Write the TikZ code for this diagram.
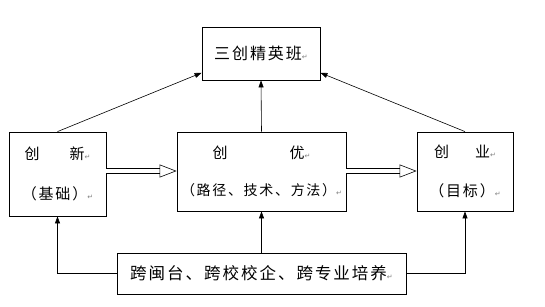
\documentclass[tikz,border=0pt]{standalone}
\usepackage{fontspec}
\setmainfont{Noto Sans CJK SC}[LetterSpace=12]
\newfontfamily\markfont{DejaVu Sans}
\usetikzlibrary{arrows.meta}

\newcommand{\parmark}{{\markfont\color{gray}\fontsize{7}{7}\selectfont ↵}}

\begin{document}
\begin{tikzpicture}[x=1pt,y=-1pt,
  box/.style={draw,line width=0.8pt,inner sep=0pt,align=center},
  link/.style={-{Triangle[length=7pt,width=5pt]},line width=0.6pt},
  hollow/.style={double distance=4pt,line width=0.6pt,
    -{Triangle[open,length=17pt,width=13pt]}}]
  \useasboundingbox (0,0) rectangle (545,307);

  \node[box,minimum width=118pt,minimum height=53pt,
    font=\fontsize{16}{16}\selectfont] (crown) at (261,53.5) {三创精英班\parmark};
  \node[box,minimum width=97pt,minimum height=84pt,
    font=\fontsize{15}{40}\selectfont] (new) at (57.5,174)
    {创\hspace{30pt}新\parmark\\（基础）\parmark};
  \node[box,minimum width=169pt,minimum height=79pt,
    font=\fontsize{15}{37}\selectfont] (opt) at (261.5,171.5)
    {创\hspace{62pt}优\parmark\\{\fontsize{14}{14}\selectfont（路径、技术、方法）\parmark}};
  \node[box,minimum width=96pt,minimum height=79pt,
    font=\fontsize{15}{39}\selectfont] (job) at (465,171.5)
    {创\hspace{26pt}业\parmark\\（目标）\parmark};
  \node[box,minimum width=289pt,minimum height=41pt,
    font=\fontsize{16.5}{16.5}\selectfont] (base) at (261.5,273.5)
    {跨闽台、跨校校企、跨专业培养\parmark};

  % upwards to the top box
  \draw[link] (new.north) -- (crown.198);
  \draw[link] (opt.north) -- (crown.south);
  \draw[link] (job.north) -- (crown.-18);

  % hollow arrows
  \draw[hollow] (new.east |- 0,171) -- (opt.west |- 0,171);
  \draw[hollow] (opt.east |- 0,171) -- (job.west |- 0,171);

  % from the bottom box
  \draw[link] (base.west) -| (new.south);
  \draw[link] (base.north) -- (opt.south);
  \draw[link] (base.east) -| (job.south);
\end{tikzpicture}
\end{document}
